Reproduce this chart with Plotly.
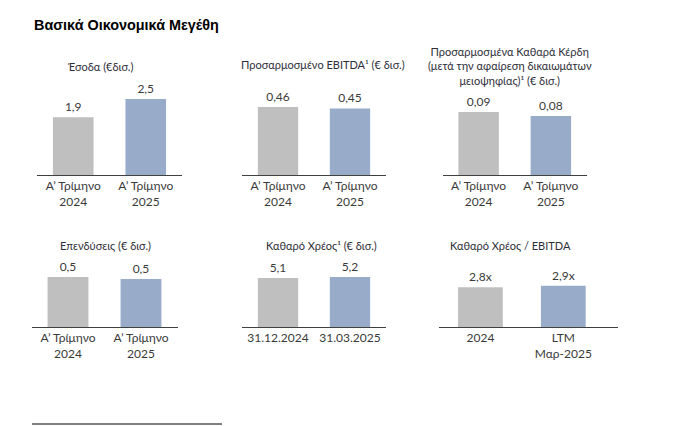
import plotly.graph_objects as go

W, H = 699, 426

# ---- data ----
titles = [
    "Έσοδα (€δισ.)",
    "Προσαρμοσμένο EBITDA¹ (€ δισ.)",
    "Προσαρμοσμένα Καθαρά Κέρδη<br>(μετά την αφαίρεση δικαιωμάτων<br>μειοψηφίας)¹ (€ δισ.)",
    "Επενδύσεις (€ δισ.)",
    "Καθαρό Χρέος¹ (€ δισ.)",
    "Καθαρό Χρέος / EBITDA",
]
cats_quarter = ["Α’ Τρίμηνο<br>2024", "Α’ Τρίμηνο<br>2025"]
cats_dates = ["31.12.2024", "31.03.2025"]
cats_ltm = ["2024", "LTM<br>Μαρ-2025"]

revenue = [1.9, 2.5]
ebitda = [0.46, 0.45]
net_profit = [0.09, 0.084]
capex = [0.5, 0.48]
net_debt = [5.1, 5.2]
leverage = [2.8, 2.9]

panels = [
    (cats_quarter, revenue, "%{y:.1f}"),
    (cats_quarter, ebitda, "%{y:.2f}"),
    (cats_quarter, net_profit, "%{y:.2f}"),
    (cats_quarter, capex, "%{y:.1f}"),
    (cats_dates, net_debt, "%{y:.1f}"),
    (cats_ltm, leverage, "%{y:.1f}x"),
]

# ---- layout geometry (pixels) ----
xdom_px = [(37, 182), (242, 386), (442.5, 587), (31.5, 177.5), (242, 386), (439, 618)]
ydom_px = [(175, 60)] * 3 + [(327, 230)] * 3
yranges = [[0, 3.78], [0, 0.778], [0, 0.164], [0, 0.97], [0, 10.1], [0, 6.83]]
xranges = [[-0.5, 1.5]] * 5 + [[-0.5, 1.66]]
widths = [0.56] * 5 + [0.54]
title_pos = [(100, 67), (323, 65), (510, 66), (105, 245), (321, 245), (510, 245)]

GRAY = "#bfbfbf"
BLUE = "#98abc9"
TXT = "#3a3a3a"
FONT = "Lato"

fig = go.Figure()
layout = dict(
    width=W, height=H,
    margin=dict(l=0, r=0, t=0, b=0),
    paper_bgcolor="white", plot_bgcolor="white",
    showlegend=False,
    separators=", ",
    font=dict(family=FONT, color=TXT, size=12),
)

annotations = []
for i, (cats, vals, tmpl) in enumerate(panels):
    n = i + 1
    xa = "x" if n == 1 else f"x{n}"
    ya = "y" if n == 1 else f"y{n}"
    fig.add_trace(go.Bar(
        x=cats, y=vals, xaxis=xa, yaxis=ya,
        marker=dict(color=[GRAY, BLUE], line=dict(width=0)),
        width=widths[i],
        texttemplate=tmpl, textposition="outside", cliponaxis=False,
        textfont=dict(family=FONT, size=12, color=TXT),
        hoverinfo="skip",
    ))
    x0, x1 = xdom_px[i]
    yb, yt = ydom_px[i]
    layout[f"xaxis{'' if n == 1 else n}"] = dict(
        domain=[x0 / W, x1 / W], anchor=ya, range=xranges[i],
        showline=True, linecolor="#404040", linewidth=1,
        showgrid=False, zeroline=False, ticks="",
        tickfont=dict(family=FONT, size=12, color=TXT),
        fixedrange=True,
    )
    layout[f"yaxis{'' if n == 1 else n}"] = dict(
        domain=[1 - yb / H, 1 - yt / H], anchor=xa, range=yranges[i],
        visible=False, showgrid=False, zeroline=False, fixedrange=True,
    )
    tx, ty = title_pos[i]
    annotations.append(dict(
        text=titles[i], x=tx / W, y=1 - ty / H, xref="paper", yref="paper",
        xanchor="center", yanchor="middle", showarrow=False,
        font=dict(family=FONT, size=11, color="#2e2e38"),
    ))

annotations.append(dict(
    text="<b>Βασικά Οικονομικά Μεγέθη</b>", x=32 / W, y=1 - 25 / H,
    xref="paper", yref="paper", xanchor="left", yanchor="middle",
    showarrow=False, font=dict(family="Liberation Sans", size=14.4, color="black"),
))
layout["annotations"] = annotations
layout["shapes"] = [dict(
    type="line", xref="paper", yref="paper",
    x0=32 / W, x1=222 / W, y0=1 - 424 / H, y1=1 - 424 / H,
    line=dict(color="black", width=1),
)]

fig.update_layout(**layout)
fig.write_html(
    "out.html",
    config={"displayModeBar": False, "staticPlot": True},
    post_script="document.body.style.margin='0';document.body.style.overflow='hidden';",
)
